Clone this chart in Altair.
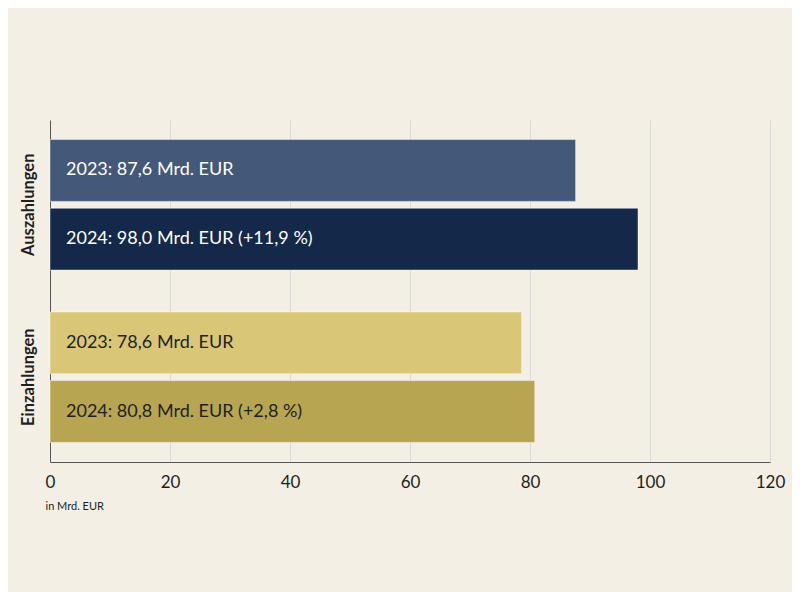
import altair as alt
import pandas as pd

groups = ["Auszahlungen", "Auszahlungen", "Einzahlungen", "Einzahlungen"]
years = ["2023", "2024", "2023", "2024"]
values = [87.6, 98.0, 78.6, 80.8]
changes = ["", "+11,9 %", "", "+2,8 %"]
bar_colors = ["#44597a", "#14284a", "#d9c777", "#b8a552"]
text_colors = ["#ffffff", "#ffffff", "#1f1f1f", "#1f1f1f"]
x_ticks = [0, 20, 40, 60, 80, 100, 120]
x_title = "in Mrd. EUR"


def make_label(y, v, c):
    s = f"{y}: " + f"{v:.1f}".replace(".", ",") + " Mrd. EUR"
    if c:
        s += f" ({c})"
    return s


df = pd.DataFrame({
    "group": groups,
    "year": years,
    "value": values,
    "key": [g + " " + y for g, y in zip(groups, years)],
    "label": [make_label(y, v, c) for y, v, c in zip(years, values, changes)],
    "tcolor": text_colors,
    "zero": [0] * len(values),
})

y_enc = alt.Y(
    "group:N",
    sort=["Auszahlungen", "Einzahlungen"],
    scale=alt.Scale(paddingInner=0.243, paddingOuter=0.1135),
    axis=alt.Axis(
        title=None,
        domain=True,
        domainColor="#555555",
        domainWidth=1,
        ticks=False,
        labelAngle=270,
        labelAlign="center",
        labelBaseline="bottom",
        labelPadding=14,
        labelFont="Lato",
        labelFontSize=16.5,
        labelFontWeight="bold",
        labelColor="#1f1f1f",
        grid=False,
    ),
)
yoff_enc = alt.YOffset(
    "year:N",
    sort=["2023", "2024"],
    scale=alt.Scale(paddingInner=0.1, paddingOuter=0),
)

x_scale = alt.Scale(domain=[0, 120], nice=False)

bars = alt.Chart(df).mark_bar(
    stroke="#ffffff", strokeOpacity=0.45, strokeWidth=1
).encode(
    x=alt.X(
        "value:Q",
        scale=x_scale,
        axis=alt.Axis(
            values=x_ticks,
            grid=True,
            gridColor="#dcdad6",
            gridWidth=1,
            domain=True,
            domainColor="#555555",
            domainWidth=1,
            ticks=False,
            labelFlush=False,
            labelPadding=12,
            labelFont="Lato",
            labelFontSize=17,
            labelColor="#1f1f1f",
            title=x_title,
            titleFont="Lato",
            titleFontSize=11,
            titleFontWeight="normal",
            titleColor="#1f1f1f",
            titleAnchor="start",
            titleAlign="left",
            titleBaseline="top",
            titleX=-5,
            titleY=38,
        ),
    ),
    y=y_enc,
    yOffset=yoff_enc,
    color=alt.Color(
        "key:N",
        scale=alt.Scale(domain=list(df["key"]), range=bar_colors),
        legend=None,
    ),
)

texts = alt.Chart(df).mark_text(
    align="left", baseline="middle", dx=16, font="Lato", fontSize=18
).encode(
    x=alt.X("zero:Q", scale=x_scale),
    y=alt.Y("group:N", sort=["Auszahlungen", "Einzahlungen"]),
    yOffset=alt.YOffset("year:N", sort=["2023", "2024"]),
    text="label:N",
    color=alt.Color("tcolor:N", scale=None),
)

chart = (
    alt.layer(bars, texts)
    .resolve_scale(color="independent")
    .properties(
        width=720,
        height=342,
        background="#f3efe4",
        autosize=alt.AutoSizeParams(type="none"),
        padding={"left": 42, "top": 112, "right": 22, "bottom": 130},
    )
    .configure_view(stroke=None)
)

chart.save("out.html", embed_options={"renderer": "svg", "actions": False})
